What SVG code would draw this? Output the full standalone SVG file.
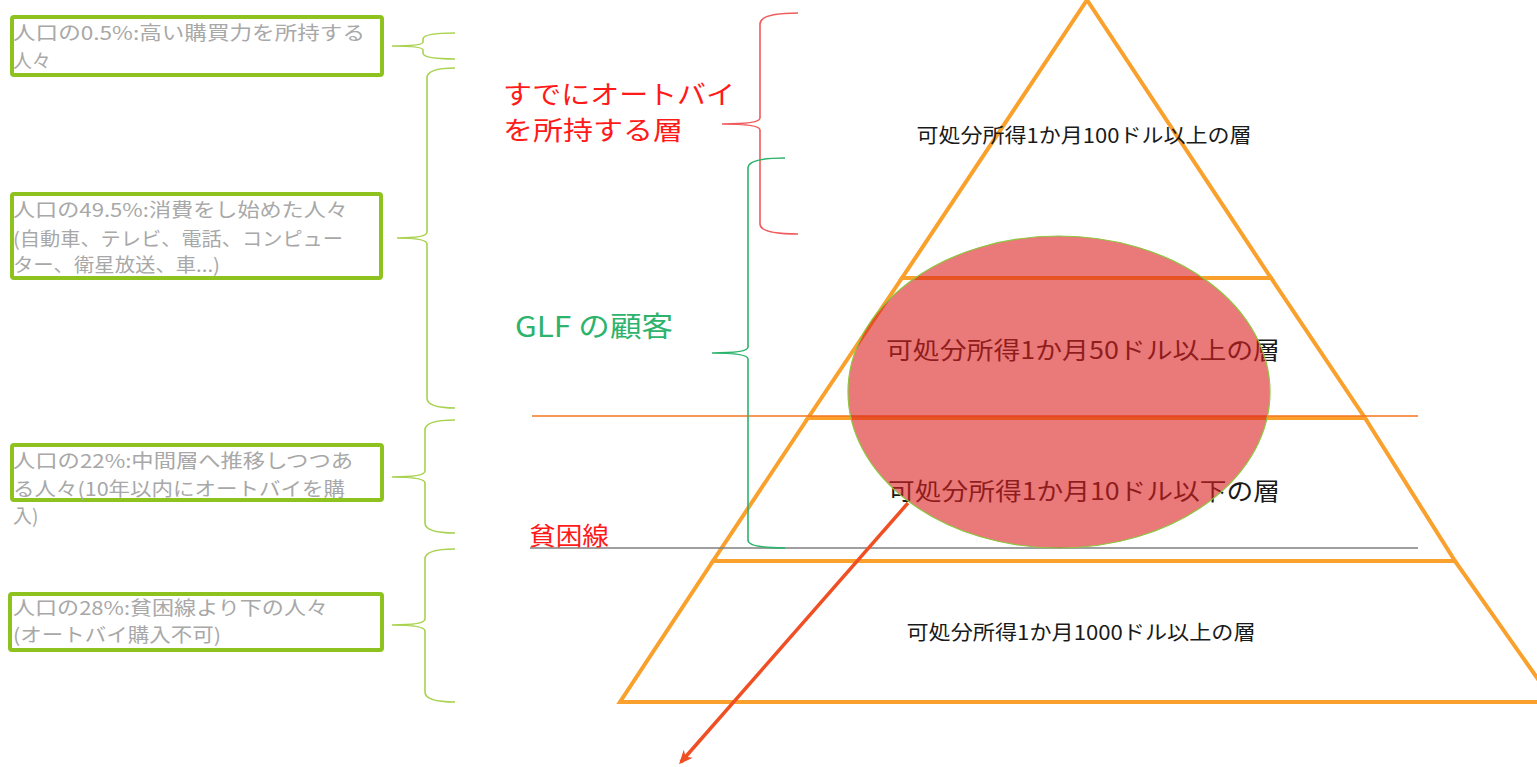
<svg xmlns="http://www.w3.org/2000/svg" width="1537" height="767" viewBox="0 0 1537 767">
<style>
text{font-family:"Noto Sans CJK JP","Noto Sans",sans-serif;}
.lbl{font-size:19px;fill:#a8a8a8;}
.box{fill:none;stroke:#8dc21f;stroke-width:4;}
.lb{fill:none;stroke:#a9d24f;stroke-width:1.6;}
.tier{fill:none;stroke:#f9a12c;stroke-width:4;stroke-linejoin:miter;}
.pt{font-size:20px;fill:#1a1a1a;text-anchor:middle;}
.red{font-size:26px;fill:#ff1a1a;}
</style>
<defs>
<marker id="ah" markerWidth="14" markerHeight="12" refX="11" refY="6" orient="auto" markerUnits="userSpaceOnUse">
<path d="M0,0 L14,6 L0,12 L4,6 Z" fill="#f04e23"/>
</marker>
</defs>
<rect width="1537" height="767" fill="#ffffff"/>

<g id="pyramid">
<polygon class="tier" points="1087,0 1271,278 902,278"/>
<polygon class="tier" points="902,278 1271,278 1365,418 808,418"/>
<polygon class="tier" points="808,418 1365,418 1455,561 713,561"/>
<polygon class="tier" points="713,561 1455,561 1554,702 620,702"/>
</g>

<g id="lines">
<line x1="532" y1="416" x2="1418" y2="416" stroke="#f5761f" stroke-width="1.5"/>
<line x1="530" y1="548" x2="1418" y2="548" stroke="#7f7f7f" stroke-width="1.5"/>
</g>

<g id="tier-labels">
<text class="pt" x="1084" y="143" textLength="335" lengthAdjust="spacingAndGlyphs">可処分所得1か月100ドル以上の層</text>
<text class="pt" x="1083" y="359" style="font-size:24px" textLength="394" lengthAdjust="spacingAndGlyphs">可処分所得1か月50ドル以上の層</text>
<text class="pt" x="1084" y="500" style="font-size:24px" textLength="392" lengthAdjust="spacingAndGlyphs">可処分所得1か月10ドル以下の層</text>
<text class="pt" x="1081" y="640" textLength="349" lengthAdjust="spacingAndGlyphs">可処分所得1か月1000ドル以上の層</text>
</g>

<g id="glf-ellipse">
<ellipse cx="1059" cy="392" rx="211" ry="156" fill="rgb(220,32,32)" fill-opacity="0.6" stroke="#8dc63f" stroke-width="1.2"/>
</g>

<g id="connectors">
<line x1="908" y1="503" x2="681" y2="762" stroke="#f04e23" stroke-width="3.5" marker-end="url(#ah)"/>
</g>

<g id="brackets">
<path class="lb" d="M455,33 Q423,33 423,39 L423,42 Q423,46 392,46 Q423,46 423,50 L423,53 Q423,59 455,59"/>
<path class="lb" d="M455,68 Q427,68 427,78 L427,232 Q427,238 397,238 Q427,238 427,244 L427,398 Q427,408 455,408"/>
<path class="lb" d="M455,420 Q425,420 425,430 L425,471 Q425,477 392,477 Q425,477 425,483 L425,523 Q425,533 455,533"/>
<path class="lb" d="M455,549 Q425,549 425,559 L425,619 Q425,625 392,625 Q425,625 425,631 L425,692 Q425,702 455,702"/>
<path d="M798,13 Q760,13 760,24 L760,118 Q760,124 722,124 Q760,124 760,130 L760,224 Q760,234 798,234" fill="none" stroke="#f05a5a" stroke-width="1.6"/>
<path d="M785,158 Q748,158 748,168 L748,347 Q748,353 712,353 Q748,353 748,359 L748,540 Q748,548 785,548" fill="none" stroke="#2db36b" stroke-width="1.6"/>
</g>

<g id="box1">
<rect class="box" x="12" y="17" width="370" height="58" rx="2"/>
<text class="lbl" x="13" y="40" textLength="352" lengthAdjust="spacingAndGlyphs">人口の0.5%:高い購買力を所持する</text>
<text class="lbl" x="13" y="68">人々</text>
</g>
<g id="box2">
<rect class="box" x="12" y="194" width="369" height="84" rx="2"/>
<text class="lbl" x="13" y="217" textLength="335" lengthAdjust="spacingAndGlyphs">人口の49.5%:消費をし始めた人々</text>
<text class="lbl" x="13" y="246" textLength="330" lengthAdjust="spacingAndGlyphs">(自動車、テレビ、電話、コンピュー</text>
<text class="lbl" x="13" y="272" textLength="207" lengthAdjust="spacingAndGlyphs">ター、衛星放送、車...)</text>
</g>
<g id="box3">
<rect class="box" x="12" y="445" width="370" height="55" rx="2"/>
<text class="lbl" x="13" y="468" textLength="340" lengthAdjust="spacingAndGlyphs">人口の22%:中間層へ推移しつつあ</text>
<text class="lbl" x="13" y="496" textLength="332" lengthAdjust="spacingAndGlyphs">る人々(10年以内にオートバイを購</text>
<text class="lbl" x="13" y="523">入)</text>
</g>
<g id="box4">
<rect class="box" x="10" y="594" width="372" height="56" rx="2"/>
<text class="lbl" x="13" y="615" textLength="315" lengthAdjust="spacingAndGlyphs">人口の28%:貧困線より下の人々</text>
<text class="lbl" x="13" y="642" textLength="208" lengthAdjust="spacingAndGlyphs">(オートバイ購入不可)</text>
</g>

<g id="owners-label">
<text class="red" x="503" y="104" textLength="232" lengthAdjust="spacingAndGlyphs">すでにオートバイ</text>
<text class="red" x="503" y="140" textLength="180" lengthAdjust="spacingAndGlyphs">を所持する層</text>
</g>
<g id="glf-label">
<text x="515" y="337" style="font-size:28px" fill="#2db36b" textLength="158" lengthAdjust="spacingAndGlyphs">GLF の顧客</text>
</g>
<g id="poverty-label">
<text x="529" y="545" style="font-size:25px" fill="#ff1a1a" textLength="80" lengthAdjust="spacingAndGlyphs">貧困線</text>
</g>
</svg>
